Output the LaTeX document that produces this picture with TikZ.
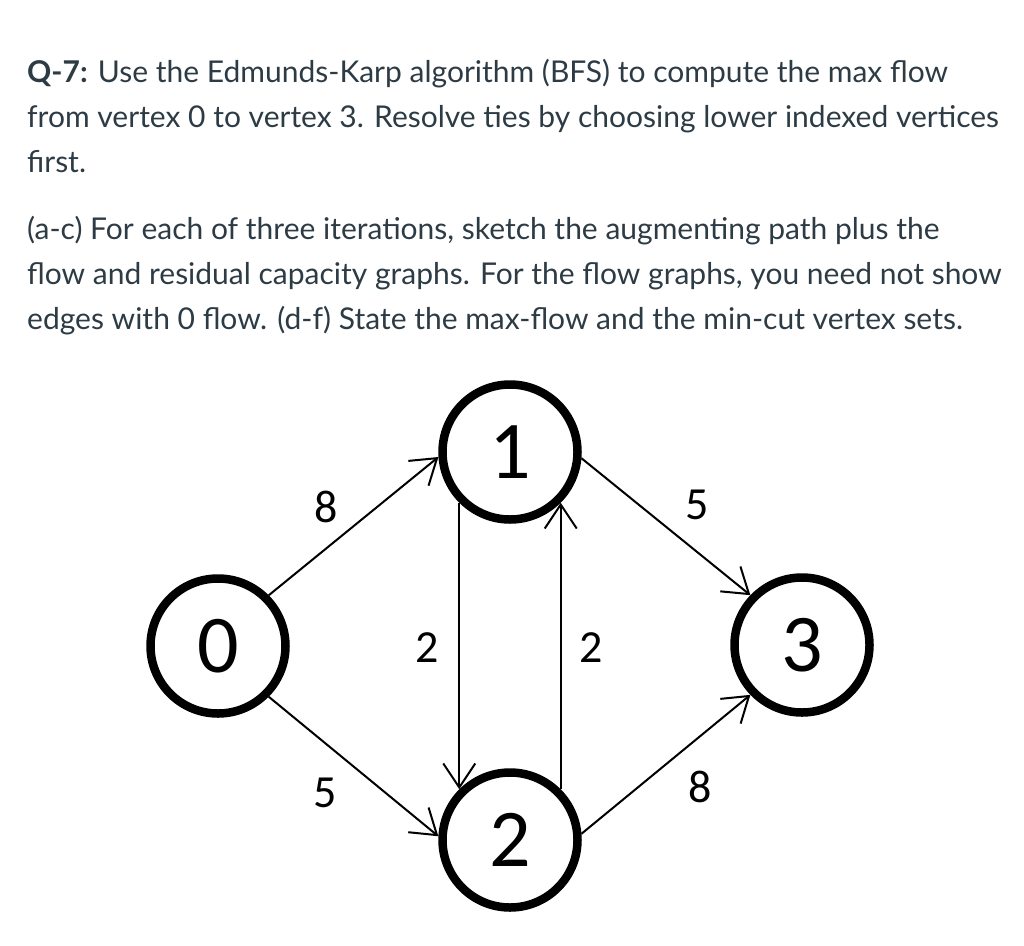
\documentclass[tikz,border=0pt]{standalone}
\usepackage{fontspec}
\setmainfont{Lato}
\newfontfamily\graphfont{Carlito}
\usepackage{xcolor}
\usetikzlibrary{arrows.meta}
\definecolor{qtext}{HTML}{2D3B45}

\begin{document}
\begin{tikzpicture}[x=1pt,y=-1pt,
    vertex/.style={circle,draw,line width=8.5pt,minimum size=135pt,inner sep=0pt,
      font=\graphfont\fontsize{82}{82}\selectfont},
    flow/.style={line width=2pt,-{Straight Barb[length=24pt,width=32pt,line width=2pt]}},
    wlabel/.style={font=\graphfont\fontsize{46}{46}\selectfont,inner sep=0pt},
    question/.style={anchor=base west,align=left,text=qtext,inner sep=0pt,
      font=\fontsize{30}{44.7}\selectfont},
  ]
  \useasboundingbox (0,0) rectangle (1024,945);

  % question text (anchored at the last line)
  \node[question] (para1) at (27,172) {\textbf{Q-7:} Use the Edmunds-Karp algorithm (BFS) to compute the max flow\\
    from vertex 0 to vertex 3. Resolve ties by choosing lower indexed vertices\\
    first.};
  \node[question] (para2) at (27,329) {(a-c) For each of three iterations, sketch the augmenting path plus the\\
    flow and residual capacity graphs. For the flow graphs, you need not show\\
    edges with 0 flow. (d-f) State the max-flow and the min-cut vertex sets.};

  % vertices
  \node[vertex] (n0) at (218,646) {0};
  \node[vertex] (n1) at (510,452) {1};
  \node[vertex] (n2) at (510,840) {2};
  \node[vertex] (n3) at (802,645) {3};

  % edges
  \draw[flow] (n0.45) -- (n1.184);
  \draw[flow] (n0.-45) -- (n2.177);
  \draw[flow] (n1.-5) -- (n3.136);
  \draw[flow] (n2.5) -- (n3.224);
  \draw[flow] (n1.225) -- (n2.135);
  \draw[flow] (n2.45) -- (n1.315);

  % capacities
  \node[wlabel] (c01) at (326,507) {8};
  \node[wlabel] (c02) at (325,793) {5};
  \node[wlabel] (c13) at (697,505) {5};
  \node[wlabel] (c23) at (700,787) {8};
  \node[wlabel] (c12) at (427,648) {2};
  \node[wlabel] (c21) at (591,648) {2};
\end{tikzpicture}
\end{document}
